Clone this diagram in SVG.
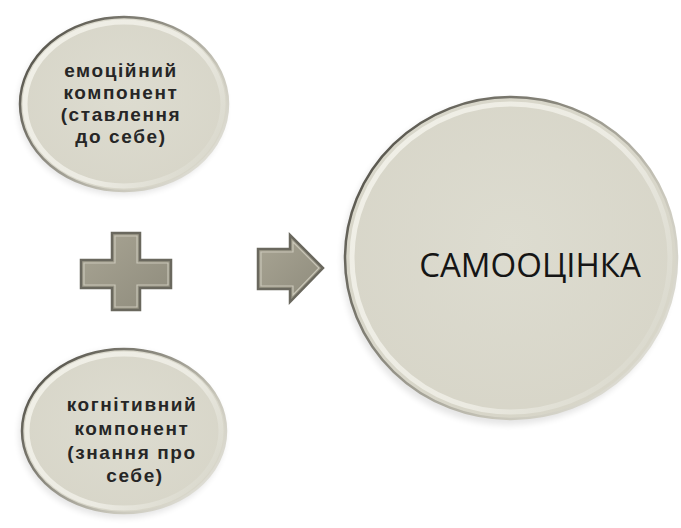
<svg xmlns="http://www.w3.org/2000/svg" width="681" height="528" viewBox="0 0 681 528">
  <defs>
    <linearGradient id="rim" x1="0" y1="0.15" x2="1" y2="0.85">
      <stop offset="0" stop-color="#4e4c44"/>
      <stop offset="0.4" stop-color="#8f8d82"/>
      <stop offset="0.7" stop-color="#c8c6ba"/>
      <stop offset="1" stop-color="#e6e5dd"/>
    </linearGradient>
    <linearGradient id="glow" x1="0" y1="0.2" x2="1" y2="0.8">
      <stop offset="0" stop-color="#f3f2ea"/>
      <stop offset="0.6" stop-color="#eeede5"/>
      <stop offset="1" stop-color="#d8d7cb"/>
    </linearGradient>
    <radialGradient id="face" cx="0.5" cy="0.45" r="0.6">
      <stop offset="0" stop-color="#dddcd0"/>
      <stop offset="1" stop-color="#d7d5c8"/>
    </radialGradient>
    <linearGradient id="shape" x1="0" y1="0" x2="1" y2="1">
      <stop offset="0" stop-color="#a9a594"/>
      <stop offset="1" stop-color="#8e8b7c"/>
    </linearGradient>
    <filter id="soft" x="-10%" y="-10%" width="120%" height="120%">
      <feGaussianBlur stdDeviation="3"/>
    </filter>
  </defs>
  <style>
    .disc { fill: url(#face); stroke: url(#rim); stroke-width: 2.5; }
    .band { fill: none; stroke: url(#glow); stroke-width: 5; opacity: 0.9; }
    .shade { fill: #000; opacity: 0.10; filter: url(#soft); }
    .small { font-family: "Liberation Sans", Arial, sans-serif; font-weight: bold; font-size: 19px; letter-spacing: 1.6px; fill: #262626; text-anchor: middle; }
    .big { font-family: "Open Sans", "Liberation Sans", sans-serif; font-size: 33px; fill: #151515; text-anchor: middle; }
    .sym { fill: url(#shape); stroke: #6a685e; stroke-width: 2.5; stroke-linejoin: miter; }
    .symhi { fill: none; stroke: #c9c6b8; stroke-width: 1.2; }
  </style>

  <rect width="681" height="528" fill="#ffffff"/>

  <!-- emotional component -->
  <g id="node-emotional">
    <ellipse class="shade" cx="122" cy="107" rx="104" ry="88"/>
    <ellipse class="disc" cx="124" cy="104" rx="104" ry="87"/>
    <ellipse class="band" cx="124" cy="104" rx="99" ry="82"/>
    <text class="small" x="121" y="77">емоційний</text>
    <text class="small" x="121" y="99">компонент</text>
    <text class="small" x="121" y="121">(ставлення</text>
    <text class="small" x="121" y="143">до себе)</text>
  </g>

  <!-- cognitive component -->
  <g id="node-cognitive">
    <ellipse class="shade" cx="122" cy="434" rx="103" ry="84"/>
    <ellipse class="disc" cx="124" cy="431" rx="102" ry="82"/>
    <ellipse class="band" cx="124" cy="431" rx="97" ry="77"/>
    <text class="small" x="132" y="411">когнітивний</text>
    <text class="small" x="132" y="435">компонент</text>
    <text class="small" x="132" y="459">(знання про</text>
    <text class="small" x="135" y="482">себе)</text>
  </g>

  <!-- self-esteem -->
  <g id="node-self-esteem">
    <ellipse class="shade" cx="508" cy="262" rx="166" ry="163"/>
    <ellipse class="disc" cx="511" cy="258" rx="166" ry="161" stroke-width="3.5"/>
    <ellipse class="band" cx="511" cy="258" rx="159" ry="154" stroke-width="8"/>
    <text class="big" x="530" y="277">САМООЦІНКА</text>
  </g>

  <!-- plus and arrow symbols -->
  <g id="connectors">
    <path class="sym" d="M112,233 H140 V260 H171 V288 H140 V310 H112 V288 H81 V260 H112 Z"/>
    <path class="symhi" d="M115,236 H137 V263 H168 V285 H137 V307 H115 V285 H84 V263 H115 Z"/>
    <path class="sym" d="M258,249 H290 V235 L323,268 L290,302 V289 H258 Z"/>
    <path class="symhi" d="M261,252 H293 V242 L319,268 L293,295 V286 H261 Z"/>
  </g>
</svg>
